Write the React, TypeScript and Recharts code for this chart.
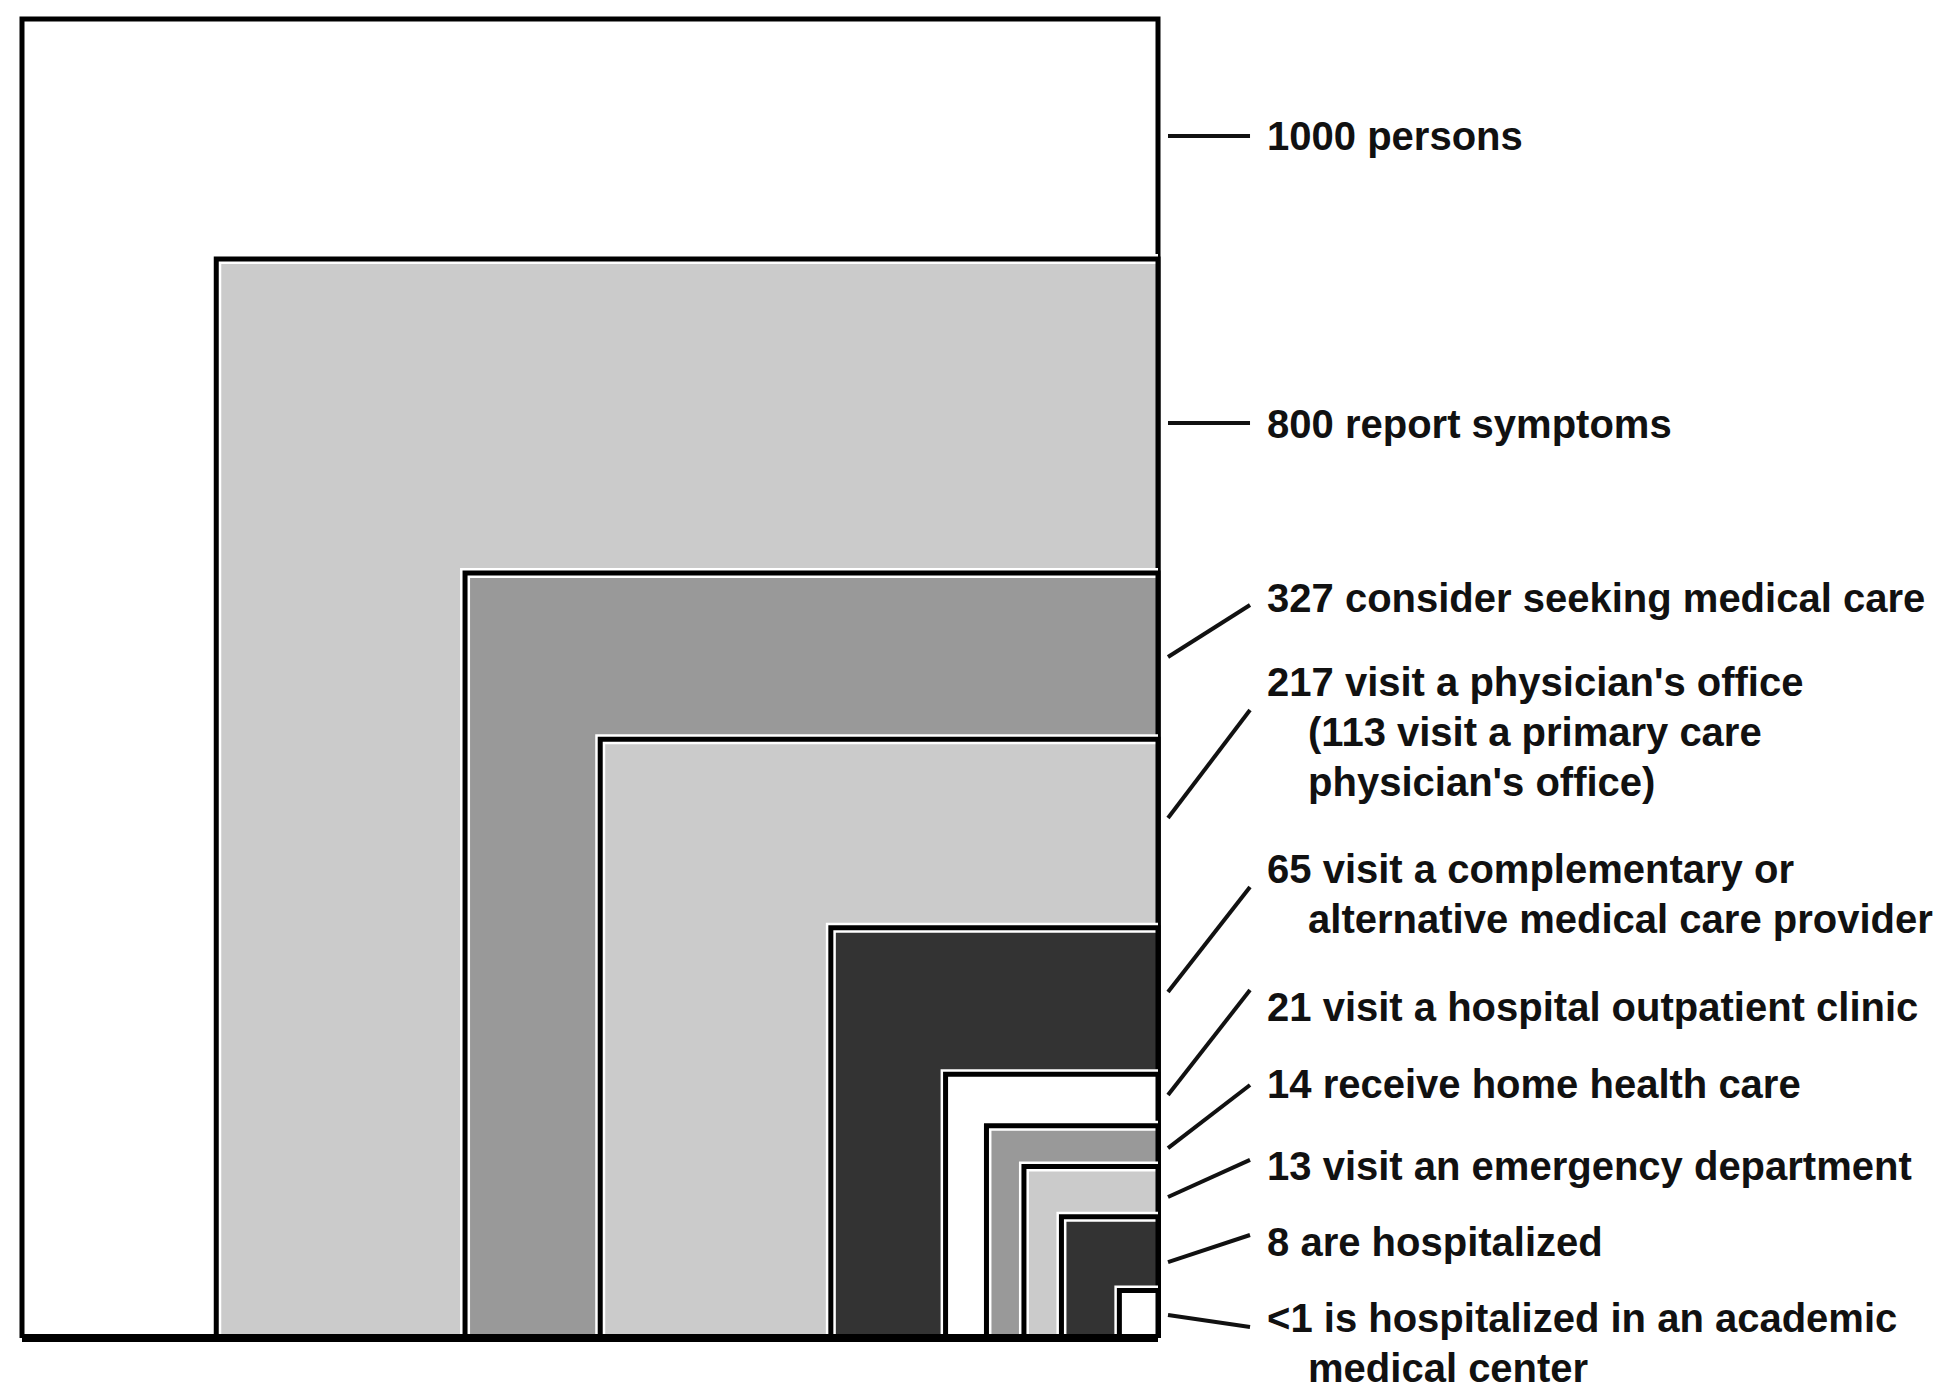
import React from 'react';
import { ComposedChart, XAxis, YAxis, ReferenceArea, ReferenceLine, ReferenceDot } from 'recharts';

// ---- data ----
const counts = ['1000', '800', '327', '217', '65', '21', '14', '13', '8', '<1'];
// side lengths of each nested box, relative to the outer (1000 persons) box, as drawn
const relWidths = [1, 0.829, 0.61, 0.491, 0.288, 0.187, 0.151, 0.118, 0.085, 0.034];
const relHeights = [1, 0.818, 0.58, 0.454, 0.311, 0.2, 0.161, 0.13, 0.092, 0.036];
const fills = ['#ffffff', '#cbcbcb', '#999999', '#cbcbcb', '#333333', '#ffffff', '#999999', '#cbcbcb', '#333333', '#ffffff'];
const descriptions: string[][] = [
  ['persons'],
  ['report symptoms'],
  ['consider seeking medical care'],
  ["visit a physician's office", '(113 visit a primary care', "physician's office)"],
  ['visit a complementary or', 'alternative medical care provider'],
  ['visit a hospital outpatient clinic'],
  ['receive home health care'],
  ['visit an emergency department'],
  ['are hospitalized'],
  ['is hospitalized in an academic', 'medical center'],
];

// ---- annotation layout (chart units) ----
const leaderFromY = [0.9113, 0.6937, 0.5163, 0.3942, 0.2623, 0.1842, 0.144, 0.1069, 0.0576, 0.0174];
const leaderToY = [0.9113, 0.6937, 0.5557, 0.4761, 0.3419, 0.2638, 0.1918, 0.135, 0.0781, 0.0083];
const labelY = [0.9007, 0.6823, 0.5504, 0.4867, 0.345, 0.2403, 0.182, 0.1198, 0.0622, 0.0045];
const LINE_X1 = 1.0088;
const LINE_X2 = 1.081;
const TEXT_X = 1.096;

const X_DOMAIN: [number, number] = [-0.019366, 1.68838];
const Y_DOMAIN: [number, number] = [-0.041698, 1.014405];

const FONT = "'Liberation Sans', Arial, Helvetica, sans-serif";

const boxShape = (fill: string) => (p: any) => {
  const { x, y, width, height } = p;
  return (
    <g>
      <rect x={x} y={y} width={width} height={height} fill={fill} />
      <path d={`M${x},${y + height} L${x},${y} L${x + width},${y}`} fill="none" stroke="#ffffff" strokeWidth={10} />
      <path
        d={`M${x},${y + height} L${x},${y} L${x + width},${y} L${x + width},${y + height}`}
        fill="none"
        stroke="#000000"
        strokeWidth={5}
        strokeLinejoin="miter"
      />
    </g>
  );
};

const labelShape = (lines: string[]) => (p: any) => (
  <text x={p.cx} y={p.cy} fontFamily={FONT} fontWeight="bold" fontSize={40} fill="#111111">
    {lines.map((t, i) => (
      <tspan key={i} x={i === 0 ? p.cx : p.cx + 41} dy={i === 0 ? 0 : 50}>
        {t}
      </tspan>
    ))}
  </text>
);

export default function App() {
  return (
    <div style={{ position: 'absolute', left: 0, top: 0, background: '#ffffff' }}>
      <ComposedChart width={1940} height={1393} margin={{ top: 0, right: 0, bottom: 0, left: 0 }} data={[]}>
        <XAxis type="number" dataKey="x" domain={X_DOMAIN} hide allowDataOverflow />
        <YAxis type="number" dataKey="y" domain={Y_DOMAIN} hide allowDataOverflow />
        {counts.map((c, i) => (
          <ReferenceArea
            key={`box-${c}`}
            x1={1 - relWidths[i]}
            x2={1}
            y1={0}
            y2={relHeights[i]}
            ifOverflow="visible"
            shape={boxShape(fills[i])}
          />
        ))}
        <ReferenceLine
          segment={[{ x: 0, y: 0 }, { x: 1, y: 0 }]}
          stroke="#000000"
          strokeWidth={8}
          ifOverflow="visible"
        />
        {counts.map((c, i) => (
          <ReferenceLine
            key={`lead-${c}`}
            segment={[{ x: LINE_X1, y: leaderFromY[i] }, { x: LINE_X2, y: leaderToY[i] }]}
            stroke="#111111"
            strokeWidth={4}
            ifOverflow="visible"
          />
        ))}
        {counts.map((c, i) => {
          const lines = [`${c} ${descriptions[i][0]}`, ...descriptions[i].slice(1)];
          return (
            <ReferenceDot
              key={`lab-${c}`}
              x={TEXT_X}
              y={labelY[i]}
              r={0}
              ifOverflow="visible"
              shape={labelShape(lines)}
            />
          );
        })}
      </ComposedChart>
    </div>
  );
}
